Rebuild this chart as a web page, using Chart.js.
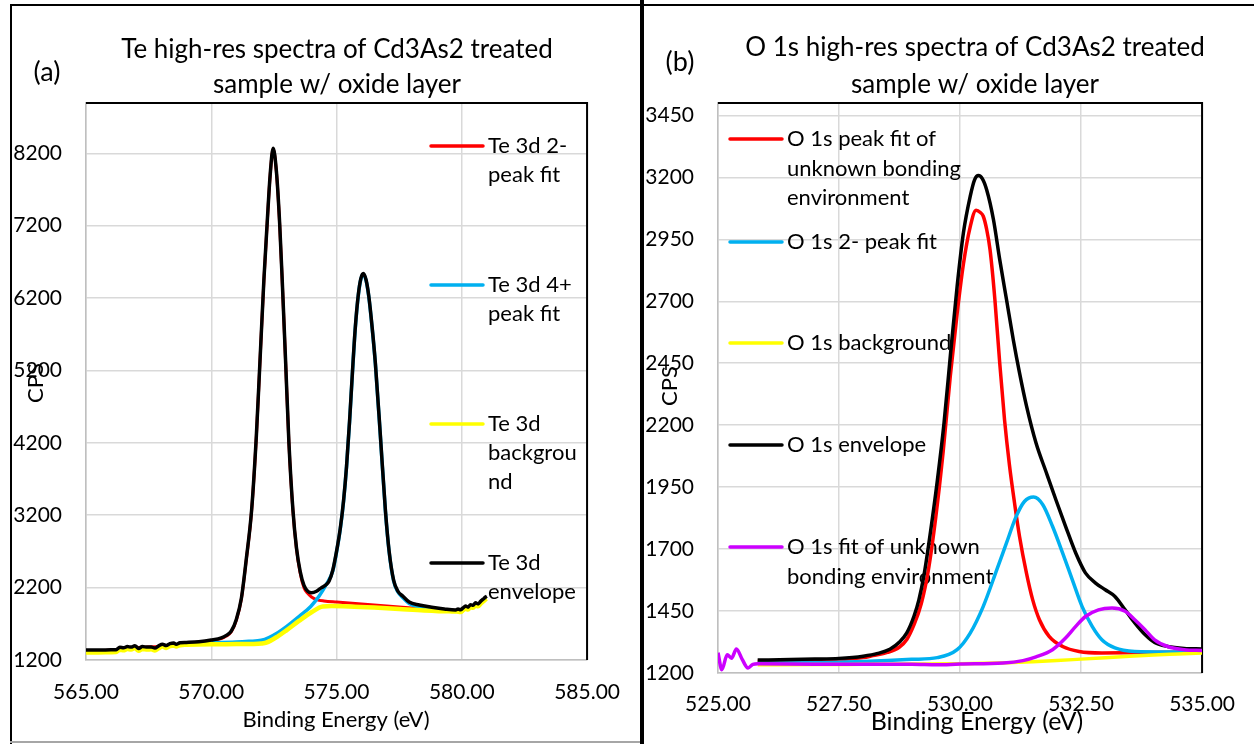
<!DOCTYPE html>
<html>
<head>
<meta charset="utf-8">
<script src="https://cdn.jsdelivr.net/npm/chart.js@4.4.1/dist/chart.umd.min.js"></script>
<style>
  html, body { margin: 0; padding: 0; background: #fff; }
  body { width: 1254px; height: 744px; position: relative; overflow: hidden; }
  #wrapA { position: absolute; left: 0; top: 0; width: 640px; height: 744px; }
  #wrapB { position: absolute; left: 644px; top: 0; width: 610px; height: 744px; }
  .rule { position: absolute; background: #000; }
</style>
</head>
<body>
<div id="wrapA"><canvas id="chartA" width="640" height="744"></canvas></div>
<div id="wrapB"><canvas id="chartB" width="610" height="744"></canvas></div>
<div class="rule" style="left:10px;top:4px;width:2px;height:740px"></div>
<div class="rule" style="left:10px;top:4px;width:1244px;height:2px"></div>
<div class="rule" style="left:640px;top:0;width:4px;height:744px"></div>
<div class="rule" style="left:10px;top:741px;width:630px;height:2px;background:#a6a6a6"></div>
<script>
// ---------- Panel (a): Te 3d ----------
const TE_TITLE = ['Te high-res spectra of Cd3As2 treated', 'sample w/ oxide layer'];
const TE_TAG = '(a)';
const TE_X_TICKS = [565, 570, 575, 580, 585];
const TE_Y_TICKS = [1200, 2200, 3200, 4200, 5200, 6200, 7200, 8200];

const TE_FIT2_E = [565.0, 566.0, 567.0, 568.0, 569.0, 570.0, 570.4, 570.6, 570.8, 571.0, 571.2, 571.4, 571.61, 571.8, 571.94, 572.1, 572.23, 572.35, 572.47, 572.6, 572.73, 572.85, 572.97, 573.1, 573.26, 573.4, 573.55, 573.7, 573.85, 574.0, 574.2, 574.5, 575.0, 576.0, 577.0, 578.0, 579.0, 579.7];
const TE_FIT2_CPS = [1330, 1335, 1370, 1390, 1430, 1465, 1495, 1530, 1590, 1750, 2040, 2590, 3260, 4290, 5290, 6440, 7220, 7890, 8260, 7940, 7220, 6290, 5290, 4190, 3260, 2740, 2400, 2200, 2120, 2070, 2035, 2015, 2000, 1975, 1945, 1920, 1900, 1888];

const TE_FIT4_E = [569.0, 570.0, 571.0, 571.5, 572.0, 572.3, 572.67, 573.0, 573.5, 573.97, 574.3, 574.6, 574.85, 575.0, 575.15, 575.28, 575.4, 575.52, 575.63, 575.75, 575.87, 575.97, 576.07, 576.18, 576.29, 576.42, 576.55, 576.75, 576.95, 577.1, 577.28, 577.45, 577.65, 577.9, 578.3, 578.8, 579.3, 579.75];
const TE_FIT4_CPS = [1432, 1438, 1448, 1458, 1472, 1510, 1580, 1660, 1800, 1940, 2080, 2250, 2430, 2690, 3010, 3390, 3870, 4490, 5140, 5790, 6240, 6460, 6530, 6440, 6210, 5790, 5290, 4290, 3260, 2690, 2290, 2140, 2060, 1980, 1935, 1905, 1885, 1875];

const TE_BG_E = [565.0, 565.5, 566.0, 566.2, 566.35, 566.5, 566.65, 566.8, 566.95, 567.1, 567.25, 567.45, 567.6, 567.75, 567.9, 568.05, 568.2, 568.35, 568.5, 568.6, 568.75, 569.0, 569.5, 570.0, 571.0, 571.6, 572.0, 572.2, 572.67, 573.0, 573.5, 574.0, 574.45, 574.8, 575.5, 576.5, 577.5, 578.5, 579.5, 579.8, 579.95, 580.05, 580.15, 580.25, 580.35, 580.45, 580.55, 580.65, 580.75, 580.85, 580.95, 581.0];
const TE_BG_CPS = [1305, 1305, 1307, 1309, 1342, 1335, 1352, 1345, 1365, 1327, 1352, 1345, 1347, 1332, 1362, 1385, 1367, 1392, 1402, 1385, 1405, 1410, 1415, 1418, 1420, 1422, 1428, 1440, 1530, 1610, 1740, 1860, 1940, 1945, 1940, 1925, 1905, 1885, 1872, 1870, 1862, 1887, 1912, 1897, 1932, 1922, 1957, 1942, 1977, 2007, 2037, 2045];

const TE_ENV_E = [565.0, 565.5, 566.0, 566.2, 566.35, 566.5, 566.65, 566.8, 566.95, 567.1, 567.25, 567.45, 567.6, 567.75, 567.9, 568.05, 568.2, 568.35, 568.5, 568.6, 568.75, 569.0, 569.5, 570.0, 570.4, 570.6, 570.8, 571.0, 571.2, 571.4, 571.61, 571.8, 571.94, 572.1, 572.23, 572.35, 572.47, 572.6, 572.73, 572.85, 572.97, 573.1, 573.26, 573.4, 573.55, 573.7, 573.85, 574.0, 574.2, 574.4, 574.55, 574.7, 574.85, 575.0, 575.15, 575.28, 575.4, 575.52, 575.63, 575.75, 575.87, 575.97, 576.07, 576.18, 576.29, 576.42, 576.55, 576.75, 576.95, 577.1, 577.28, 577.45, 577.65, 577.9, 578.3, 578.8, 579.3, 579.75, 579.85, 579.95, 580.05, 580.15, 580.25, 580.35, 580.45, 580.55, 580.65, 580.75, 580.85, 580.95, 581.0];
const TE_ENV_CPS = [1338, 1338, 1340, 1342, 1375, 1368, 1385, 1378, 1398, 1360, 1385, 1378, 1380, 1365, 1395, 1418, 1400, 1425, 1435, 1418, 1438, 1443, 1452, 1475, 1505, 1540, 1600, 1760, 2050, 2600, 3270, 4300, 5300, 6450, 7230, 7900, 8270, 7950, 7230, 6300, 5300, 4200, 3270, 2750, 2420, 2230, 2150, 2130, 2150, 2200, 2230, 2290, 2440, 2700, 3020, 3400, 3880, 4500, 5150, 5800, 6250, 6470, 6540, 6450, 6220, 5800, 5300, 4300, 3270, 2700, 2300, 2150, 2080, 2000, 1960, 1930, 1905, 1890, 1905, 1895, 1920, 1945, 1930, 1965, 1955, 1990, 1975, 2010, 2040, 2070, 2080];

const TE_NAMES = [['Te 3d 2-', 'peak fit'], ['Te 3d 4+', 'peak fit'], ['Te 3d', 'backgrou', 'nd'], ['Te 3d', 'envelope']];

// ---------- Panel (b): O 1s ----------
const O_TITLE = ['O 1s high-res spectra of Cd3As2 treated', 'sample w/ oxide layer'];
const O_TAG = '(b)';
const O_X_TICKS = [525, 527.5, 530, 532.5, 535];
const O_Y_TICKS = [1200, 1450, 1700, 1950, 2200, 2450, 2700, 2950, 3200, 3450];

const O_UNK1_E = [525.82, 526.5, 527.0, 527.5, 528.0, 528.2, 528.5, 528.75, 528.9, 529.05, 529.2, 529.35, 529.5, 529.65, 529.8, 529.94, 530.07, 530.21, 530.33, 530.42, 530.48, 530.55, 530.62, 530.72, 530.82, 530.92, 531.02, 531.13, 531.23, 531.37, 531.5, 531.64, 531.84, 532.12, 532.46, 532.93, 533.5, 534.3, 535.0];
const O_UNK1_CPS = [1247, 1249, 1251, 1254, 1262, 1270, 1283, 1305, 1335, 1395, 1480, 1620, 1830, 2090, 2400, 2650, 2850, 3000, 3067, 3058, 3043, 2990, 2908, 2707, 2450, 2220, 2040, 1880, 1750, 1605, 1496, 1415, 1348, 1307, 1287, 1281, 1282, 1284, 1285];

const O_FIT2_E = [525.82, 527.0, 527.5, 528.0, 528.5, 529.0, 529.53, 529.94, 530.21, 530.48, 530.76, 530.96, 531.16, 531.33, 531.52, 531.71, 531.91, 532.12, 532.32, 532.52, 532.73, 532.93, 533.2, 533.61, 534.29, 535.0];
const O_FIT2_CPS = [1240, 1241, 1243, 1246, 1250, 1255, 1262, 1294, 1361, 1469, 1617, 1725, 1832, 1892, 1910, 1879, 1792, 1684, 1576, 1469, 1388, 1334, 1301, 1287, 1285, 1285];

const O_BG_E = [525.82, 527.0, 528.0, 529.0, 530.0, 531.0, 531.5, 532.0, 532.5, 533.0, 533.5, 534.0, 534.5, 535.0];
const O_BG_CPS = [1233, 1234, 1235, 1236, 1237, 1241, 1245, 1250, 1256, 1262, 1268, 1273, 1277, 1281];

const O_ENV_E = [525.82, 526.5, 527.0, 527.5, 528.0, 528.3, 528.55, 528.75, 528.9, 529.05, 529.15, 529.26, 529.39, 529.53, 529.67, 529.8, 529.94, 530.07, 530.21, 530.3, 530.38, 530.46, 530.55, 530.69, 530.82, 530.96, 531.1, 531.23, 531.37, 531.57, 531.78, 531.98, 532.18, 532.39, 532.59, 532.8, 533.0, 533.2, 533.41, 533.61, 533.82, 534.02, 534.29, 534.63, 535.0];
const O_ENV_CPS = [1252, 1254, 1256, 1259, 1268, 1279, 1296, 1325, 1362, 1430, 1495, 1600, 1770, 1975, 2210, 2480, 2760, 2976, 3123, 3190, 3207, 3195, 3150, 3030, 2868, 2707, 2545, 2410, 2280, 2128, 2010, 1899, 1792, 1684, 1604, 1563, 1536, 1509, 1455, 1402, 1355, 1323, 1307, 1299, 1297];

const O_UNK2_E = [525.0, 525.08, 525.19, 525.28, 525.38, 525.5, 525.62, 525.72, 525.82, 527.0, 528.0, 529.0, 529.53, 530.0, 530.89, 531.3, 531.57, 531.91, 532.18, 532.39, 532.59, 532.86, 533.14, 533.41, 533.61, 533.82, 534.02, 534.29, 534.63, 535.0];
const O_UNK2_CPS = [1282, 1213, 1274, 1260, 1297, 1255, 1220, 1235, 1237, 1235, 1235, 1235, 1233, 1236, 1240, 1250, 1265, 1294, 1341, 1388, 1428, 1455, 1462, 1449, 1415, 1375, 1334, 1307, 1294, 1291];

const O_NAMES = [['O 1s peak fit of', 'unknown bonding', 'environment'], ['O 1s 2- peak fit'], ['O 1s background'], ['O 1s envelope'], ['O 1s fit of unknown', 'bonding environment']];

const AXIS_X = 'Binding Energy (eV)';
const AXIS_Y = 'CPS';

const RED = '#ff0000', BLUE = '#00b0f0', YELLOW = '#ffff00', BLACK = '#000000', MAGENTA = '#cc00ff';
const FONT = 'Lato, "Open Sans", sans-serif';

function pts(es, cs) { return es.map((e, i) => ({ x: e, y: cs[i] })); }

function line(label, es, cs, color, width, order) {
  return {
    label, data: pts(es, cs), borderColor: color, backgroundColor: color,
    borderWidth: width, pointRadius: 0, fill: false,
    cubicInterpolationMode: 'monotone', order
  };
}

// Draws the plot frame, titles, axis captions and the wrapped legend.
const panelDecor = {
  id: 'panelDecor',
  beforeDatasetsDraw(chart, args, o) {
    const { ctx, chartArea: a } = chart;
    ctx.save();
    ctx.strokeStyle = '#000';
    ctx.lineWidth = 2;
    ctx.beginPath();
    ctx.moveTo(a.left, a.top);
    ctx.lineTo(a.right, a.top);
    ctx.lineTo(a.right, a.bottom);
    ctx.stroke();

    // legend entries
    ctx.fillStyle = '#000';
    ctx.textBaseline = 'middle';
    ctx.textAlign = 'left';
    ctx.font = o.legendFont + 'px ' + FONT;
    o.legendY.forEach((y, i) => {
      const ds = chart.data.datasets[i];
      ctx.strokeStyle = ds.borderColor;
      ctx.lineWidth = 3.5;
      ctx.lineCap = 'round';
      ctx.beginPath();
      ctx.moveTo(o.legendX, y);
      ctx.lineTo(o.legendX + 52, y);
      ctx.stroke();
      o.names[i].forEach((t, k) => ctx.fillText(t, o.legendX + 57, y + k * o.legendGap));
    });
    ctx.restore();
  },
  afterDraw(chart, args, o) {
    const { ctx } = chart;
    ctx.save();
    ctx.fillStyle = '#000';
    ctx.textBaseline = 'middle';
    ctx.textAlign = 'center';
    ctx.font = o.titleFont + 'px ' + FONT;
    o.title.forEach((t, k) => ctx.fillText(t, o.titleX, o.titleY[k]));
    ctx.font = o.tagFont + 'px ' + FONT;
    ctx.fillText(o.tag, o.tagX, o.tagY);
    ctx.font = o.xTitleFont + 'px ' + FONT;
    ctx.fillText(AXIS_X, o.xTitleX, o.xTitleY);
    ctx.font = '22px ' + FONT;
    ctx.translate(o.yTitleX, o.yTitleY);
    ctx.rotate(-Math.PI / 2);
    ctx.fillText(AXIS_Y, 0, 0);
    ctx.restore();
  }
};

function makeChart(id, datasets, p) {
  return new Chart(document.getElementById(id), {
    type: 'line',
    data: { datasets },
    plugins: [panelDecor],
    options: {
      responsive: false,
      animation: false,
      events: [],
      layout: { padding: { top: p.top, right: p.right, bottom: 0, left: 0 } },
      plugins: { legend: { display: false }, tooltip: { enabled: false }, panelDecor: p.decor },
      scales: {
        x: {
          type: 'linear', min: p.xTicks[0], max: p.xTicks[p.xTicks.length - 1],
          afterBuildTicks: s => { s.ticks = p.xTicks.map(v => ({ value: v })); },
          afterFit: s => { s.height = p.xHeight; },
          grid: { color: '#d9d9d9', lineWidth: 1.5, drawTicks: false },
          border: { color: '#bfbfbf', width: 1.5 },
          ticks: { autoSkip: false, maxRotation: 0, padding: p.xPad, color: '#000',
                   font: { family: FONT, size: 21 }, callback: v => Number(v).toFixed(2) }
        },
        y: {
          type: 'linear', min: p.yTicks[0], max: p.yMax,
          afterBuildTicks: s => { s.ticks = p.yTicks.map(v => ({ value: v })); },
          afterFit: s => { s.width = p.yWidth; },
          grid: { color: '#d9d9d9', lineWidth: 1.5, drawTicks: false },
          border: { color: '#bfbfbf', width: 1.5 },
          ticks: { autoSkip: false, padding: 24, color: '#000',
                   font: { family: FONT, size: 21 }, callback: v => String(v) }
        }
      }
    }
  });
}

makeChart('chartA', [
  line(TE_NAMES[0].join(' '), TE_FIT2_E, TE_FIT2_CPS, RED, 3, 4),
  line(TE_NAMES[1].join(' '), TE_FIT4_E, TE_FIT4_CPS, BLUE, 3.5, 3),
  line(TE_NAMES[2].join(''), TE_BG_E, TE_BG_CPS, YELLOW, 4.5, 2),
  line(TE_NAMES[3].join(' '), TE_ENV_E, TE_ENV_CPS, BLACK, 3.5, 1)
], {
  top: 103, right: 48, xHeight: 84, yWidth: 86, xPad: 20,
  xTicks: TE_X_TICKS, yTicks: TE_Y_TICKS, yMax: 8895,
  decor: {
    names: TE_NAMES, legendX: 431, legendY: [146, 285, 424, 563], legendGap: 29, legendFont: 22,
    title: TE_TITLE, titleX: 337, titleY: [50, 85], titleFont: 26,
    tag: TE_TAG, tagX: 47, tagY: 72, tagFont: 27,
    xTitleX: 336, xTitleY: 720, xTitleFont: 22,
    yTitleX: 36, yTitleY: 383
  }
});

makeChart('chartB', [
  line(O_NAMES[0].join(' '), O_UNK1_E, O_UNK1_CPS, RED, 3.5, 5),
  line(O_NAMES[1].join(' '), O_FIT2_E, O_FIT2_CPS, BLUE, 3.5, 4),
  line(O_NAMES[2].join(' '), O_BG_E, O_BG_CPS, YELLOW, 3.5, 3),
  line(O_NAMES[3].join(' '), O_ENV_E, O_ENV_CPS, BLACK, 3.5, 2),
  line(O_NAMES[4].join(' '), O_UNK2_E, O_UNK2_CPS, MAGENTA, 3.5, 1)
], {
  top: 103, right: 46, xHeight: 71, yWidth: 74, xPad: 19,
  xTicks: O_X_TICKS, yTicks: O_Y_TICKS, yMax: 3500,
  decor: {
    names: O_NAMES, legendX: 86, legendY: [139, 242, 343, 445, 547], legendGap: 29.5, legendFont: 22,
    title: O_TITLE, titleX: 331, titleY: [48, 85], titleFont: 26,
    tag: O_TAG, tagX: 36, tagY: 62, tagFont: 27,
    xTitleX: 333, xTitleY: 722, xTitleFont: 25,
    yTitleX: 26, yTitleY: 386
  }
});
</script>
</body>
</html>
